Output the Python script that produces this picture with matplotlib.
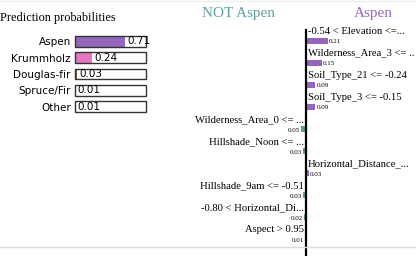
"""LIME-style explanation for one forest cover prediction."""

import matplotlib

matplotlib.use("Agg")
import matplotlib.pyplot as plt
from matplotlib.lines import Line2D

W, H = 416, 256

class_names = ["Aspen", "Krummholz", "Douglas-fir", "Spruce/Fir", "Other"]
class_probs = [0.71, 0.24, 0.03, 0.01, 0.01]
class_colors = ["#9467bd", "#e377c2", "#8c564b", "#1f77b4", "#7f7f7f"]

features = [
    "-0.54 < Elevation <=...",
    "Wilderness_Area_3 <= ..",
    "Soil_Type_21 <= -0.24",
    "Soil_Type_3 <= -0.15",
    "Wilderness_Area_0 <= ...",
    "Hillshade_Noon <= ...",
    "Horizontal_Distance_...",
    "Hillshade_9am <= -0.51",
    "-0.80 < Horizontal_Di...",
    "Aspect > 0.95",
]
weights = [0.21, 0.15, 0.09, 0.09, -0.05, -0.03, 0.03, -0.03, -0.02, -0.01]

POS_COLOR = "#9467bd"
NEG_COLOR = "#5f9ea0"
SERIF = "Liberation Serif"
SANS = "DejaVu Sans"


def px_box(x0, y0, x1, y1):
    # pixel box (top-left origin) -> figure fraction rect
    return [x0 / W, 1 - y1 / H, (x1 - x0) / W, (y1 - y0) / H]


fig = plt.figure(figsize=(W / 100, H / 100), dpi=100)

# prediction probabilities
fig.text(0, 1 - 18 / H, "Prediction probabilities", family=SERIF, fontsize=8.8, va="center", ha="left")
ax_p = fig.add_axes(px_box(75, 33, 146, 115))
rows = range(len(class_names))
ax_p.barh(rows, class_probs, height=0.67, color=class_colors, linewidth=0)
ax_p.barh(rows, [1] * len(class_names), height=0.67, fill=False, edgecolor="#333333",
          linewidth=1, clip_on=False)
for i, p in enumerate(class_probs):
    ax_p.text(p + 0.03, i, f"{p:.2f}", family=SANS, fontsize=7.5, va="center", ha="left")
ax_p.set_xlim(0, 1)
ax_p.set_ylim(len(class_names) - 0.5, -0.5)
ax_p.set_yticks(list(rows), labels=class_names, family=SANS, fontsize=7.5)
ax_p.tick_params(axis="y", length=0, pad=3)
ax_p.set_xticks([])
for s in ax_p.spines.values():
    s.set_visible(False)
ax_p.patch.set_alpha(0)

# feature weights
zero_px, scale_px = 306, 105
row0_px, step_px = 40.5, 22.1
ax_w = fig.add_axes(px_box(160, 0, 416, 256))
ax_w.set_xlim((160 - zero_px) / scale_px, (416 - zero_px) / scale_px)
ax_w.set_ylim((256 - row0_px) / step_px, (0 - row0_px) / step_px)
ax_w.axis("off")

colors = [POS_COLOR if w > 0 else NEG_COLOR for w in weights]
ax_w.barh(range(len(features)), weights, height=6 / step_px, color=colors, linewidth=0)
ax_w.plot([0, 0], [(30 - row0_px) / step_px, (256 - row0_px) / step_px], color="black", lw=1.6)

text_dy = 9.5 / step_px
gap = 2 / scale_px
for i, (name, w) in enumerate(zip(features, weights)):
    if w > 0:
        ax_w.text(gap, i - text_dy, name, family=SERIF, fontsize=7.7, ha="left", va="center")
        ax_w.text(w + gap / 2, i + 0.05, f"{abs(w):.2f}", family=SERIF, fontsize=5, ha="left", va="center")
    else:
        ax_w.text(-gap, i - text_dy, name, family=SERIF, fontsize=7.7, ha="right", va="center")
        ax_w.text(w - gap / 2, i + 0.05, f"{abs(w):.2f}", family=SERIF, fontsize=5, ha="right", va="center")

fig.text(239 / W, 1 - 14 / H, "NOT Aspen", family=SERIF, fontsize=11, color=NEG_COLOR, ha="center", va="center")
fig.text(373 / W, 1 - 14 / H, "Aspen", family=SERIF, fontsize=11, color=POS_COLOR, ha="center", va="center")

# faint cell borders
fig.add_artist(Line2D([0, 1], [1 - 1 / H, 1 - 1 / H], color="#eeeeee", lw=1))
fig.add_artist(Line2D([0, 1], [1 - 247 / H, 1 - 247 / H], color="#dddddd", lw=1))

fig.savefig("out.png", dpi=100)
